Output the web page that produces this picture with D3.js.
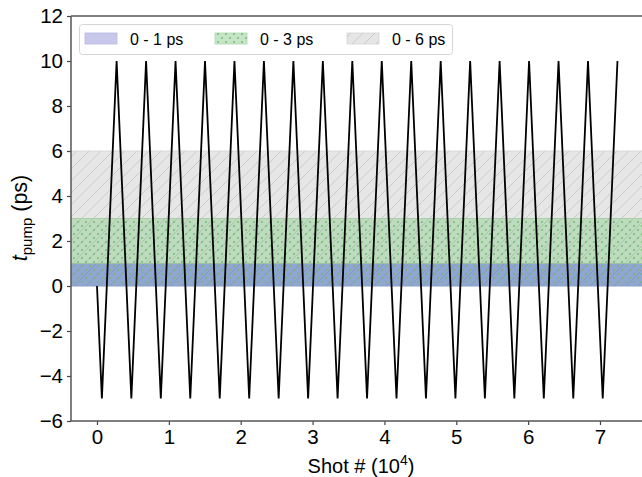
<!DOCTYPE html>
<html><head><meta charset="utf-8">
<script src="https://cdn.jsdelivr.net/npm/d3@7"></script>
<style>body{margin:0;background:#fff}svg{display:block;font-family:"Liberation Sans",Arial,sans-serif}</style>
</head><body><svg id="c" width="642" height="477"></svg>
<script>
// vertices of the pump delay sweep (shot # in 1e4, delay in ps)
const shotX = [0,0.068,0.273,0.478,0.683,0.888,1.093,1.298,1.503,1.708,1.913,2.118,2.323,2.528,2.733,2.938,3.143,3.348,3.553,3.758,3.963,4.168,4.373,4.578,4.783,4.988,5.193,5.398,5.603,5.808,6.013,6.218,6.423,6.628,6.833,7.038,7.243];
const delayY = [0,-5,10,-5,10,-5,10,-5,10,-5,10,-5,10,-5,10,-5,10,-5,10,-5,10,-5,10,-5,10,-5,10,-5,10,-5,10,-5,10,-5,10,-5,10];
const bandLabels = ["0 - 1 ps","0 - 3 ps","0 - 6 ps"];
const bandTop = [1,3,6];
const xTicks = [0,1,2,3,4,5,6,7];
const yTicks = [-6,-4,-2,0,2,4,6,8,10,12];

const svg = d3.select("#c");
const x = d3.scaleLinear().domain([0,7]).range([97,600]);
const y = d3.scaleLinear().domain([-6,12]).range([421,16]);
const L = 71, R = 700, T = 16, B = 421;

const defs = svg.append("defs");
const hp = defs.append("pattern").attr("id","hatch").attr("patternUnits","userSpaceOnUse")
  .attr("width",12).attr("height",12);
hp.append("path").attr("d","M-3,3 L3,-3 M0,12 L12,0 M9,15 L15,9").attr("stroke","rgba(110,110,110,0.22)").attr("stroke-width",1);
const dp = defs.append("pattern").attr("id","dots").attr("patternUnits","userSpaceOnUse")
  .attr("width",8).attr("height",8);
dp.append("circle").attr("cx",2).attr("cy",2).attr("r",0.9).attr("fill","#6fb86f");
dp.append("circle").attr("cx",6).attr("cy",6).attr("r",0.9).attr("fill","#6fb86f");

// bands
const bandFill = ["#8fa6d0","#bddcbd","#e6e6e6"];
[2,1,0].forEach(i=>{
  svg.append("rect").attr("x",L).attr("width",R-L).attr("y",y(bandTop[i])).attr("height",y(0)-y(bandTop[i]))
    .attr("fill",bandFill[i]);
});
svg.append("rect").attr("x",L).attr("width",R-L).attr("y",y(6)).attr("height",y(0)-y(6)).attr("fill","url(#hatch)");
svg.append("rect").attr("x",L).attr("width",R-L).attr("y",y(3)).attr("height",y(0)-y(3)).attr("fill","url(#dots)");
// band edges
[[0,"#8aa0cc"],[1,"#9dc0a8"],[3,"#a8cfa8"],[6,"#d8d8d8"]].forEach(([v,c])=>{
  svg.append("line").attr("x1",L).attr("x2",R).attr("y1",y(v)).attr("y2",y(v)).attr("stroke",c).attr("stroke-width",1);
});

// line
svg.append("path").datum(shotX.map((d,i)=>[d,delayY[i]]))
  .attr("d",d3.line().x(d=>x(d[0])).y(d=>y(d[1])))
  .attr("fill","none").attr("stroke","#000").attr("stroke-width",1.8).attr("stroke-linejoin","miter");

// axes
const ax = svg.append("g").attr("transform",`translate(0,${B})`)
  .call(d3.axisBottom(x).tickValues(xTicks).tickFormat(d3.format("d")).tickSize(4).tickPadding(4));
const ay = svg.append("g").attr("transform",`translate(${L},0)`)
  .call(d3.axisLeft(y).tickValues(yTicks).tickFormat(d=>d<0?"\u2212"+Math.abs(d):d).tickSize(4).tickPadding(4));
[ax,ay].forEach(g=>{
  g.select(".domain").remove();
  g.selectAll(".tick line").attr("stroke","#444").attr("stroke-width",1.2);
  g.selectAll(".tick text").attr("fill","#000").attr("font-size",20.5).attr("font-family","Liberation Sans, Arial, sans-serif");
});
// spines
svg.append("line").attr("x1",L).attr("x2",L).attr("y1",T).attr("y2",B).attr("stroke","#555").attr("stroke-width",1.5);
svg.append("line").attr("x1",L).attr("x2",R).attr("y1",B).attr("y2",B).attr("stroke","#555").attr("stroke-width",1.5);
svg.append("line").attr("x1",L).attr("x2",R).attr("y1",T).attr("y2",T).attr("stroke","#555").attr("stroke-width",1.5);

// axis labels
const xl = svg.append("text").attr("x",361).attr("y",473).attr("text-anchor","middle").attr("font-size",20);
xl.append("tspan").text("Shot # (10");
xl.append("tspan").attr("dy",-8).attr("font-size",14).text("4");
xl.append("tspan").attr("dy",8).text(")");
const yl = svg.append("text").attr("transform","translate(27,218) rotate(-90)").attr("text-anchor","middle").attr("font-size",21.5);
yl.append("tspan").attr("font-style","italic").text("t");
yl.append("tspan").attr("dy",5).attr("font-size",15).text("pump");
yl.append("tspan").attr("dy",-5).text(" (ps)");

// legend
const lg = svg.append("g");
lg.append("rect").attr("x",79.5).attr("y",24.5).attr("width",373).attr("height",30).attr("rx",3)
  .attr("fill","#fff").attr("fill-opacity",0.85).attr("stroke","#d5d5d5");
const legX = [85,215,347];
const legFill = ["#c8c8ec","#c6e4c6","#e6e6e6"];
const legStroke = ["#b8b8e4","#b0d8b0","#d4d4d4"];
const legPat = [null,"url(#dots)","url(#hatch)"];
bandLabels.forEach((t,i)=>{
  lg.append("rect").attr("x",legX[i]).attr("y",33).attr("width",32).attr("height",11).attr("fill",legFill[i]).attr("stroke",legStroke[i]).attr("stroke-width",0.8);
  if(legPat[i]) lg.append("rect").attr("x",legX[i]).attr("y",33).attr("width",32).attr("height",11).attr("fill",legPat[i]);
  lg.append("text").attr("x",legX[i]+45).attr("y",45).attr("font-size",16).text(t);
});
</script></body></html>
